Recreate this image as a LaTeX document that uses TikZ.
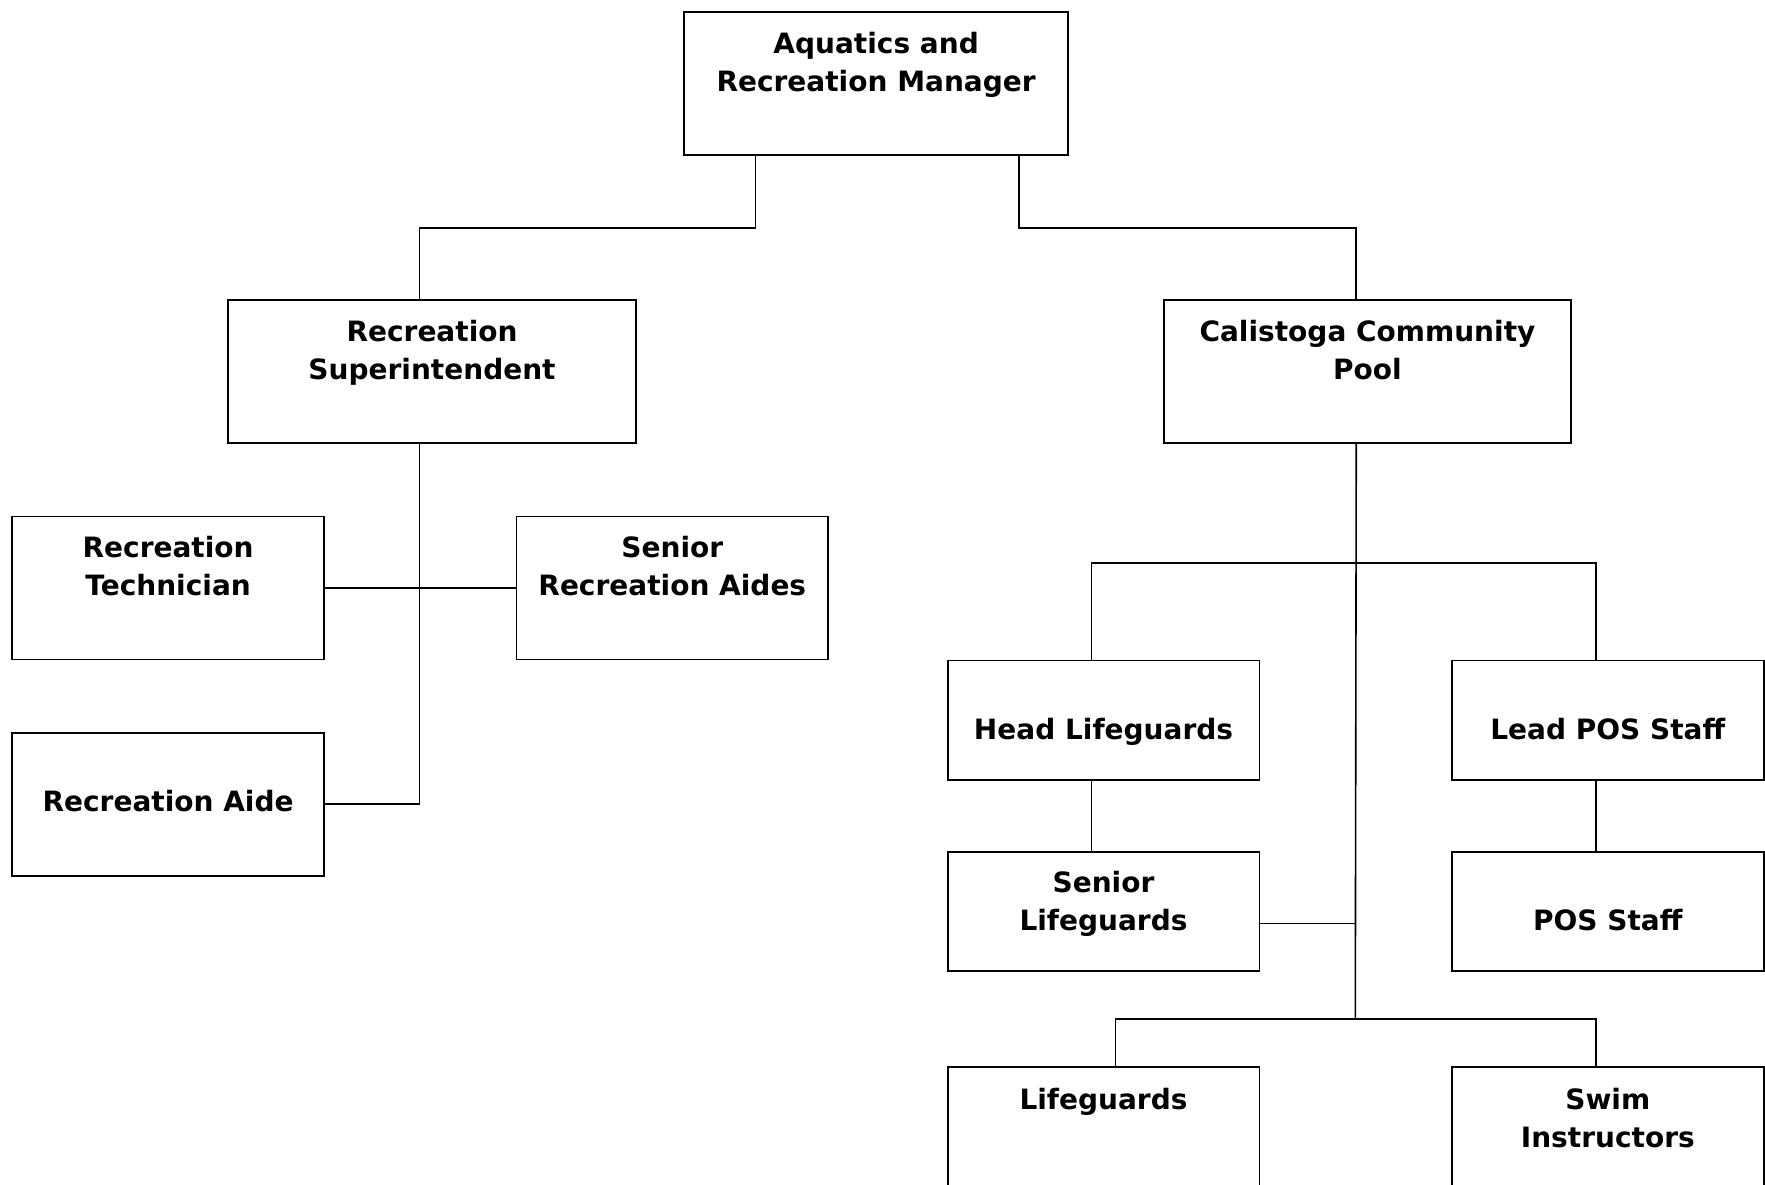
\documentclass[tikz,border=0pt]{standalone}
\usepackage{fontspec}
\setmainfont{DejaVu Sans}
% text block of a box: width, height, top strut, lines
\newcommand{\boxlines}[4]{\parbox[c][#2pt][t]{#1pt}{\centering\rule{0pt}{#3pt}#4}}
\tikzset{
  orgbox/.style={draw, line width=1.8pt, anchor=north west, inner sep=0pt,
    font=\fontsize{28}{38}\selectfont\bfseries},
  link/.style={line width=1.6pt}
}
\begin{document}
\begin{tikzpicture}[x=1pt, y=-1pt]
        \useasboundingbox (0,0) rectangle (1765,1185);
        \clip (0,0) rectangle (1765,1185);

        % Top level
        \node[orgbox] (mgr) at (683.3,11.3) {\boxlines{383.8}{142.9}{41}{Aquatics and\\Recreation Manager}};

        % Second level
        \node[orgbox] (supt) at (227.4,299.4) {\boxlines{407.5}{143}{41}{Recreation\\Superintendent}};
        \node[orgbox] (pool) at (1162.8,299.4) {\boxlines{407.5}{143}{41}{Calistoga Community\\Pool}};

        % Recreation side
        \node[orgbox] (tech) at (11.3,515.5) {\boxlines{311.8}{143}{41}{Recreation\\Technician}};
        \node[orgbox] (saides) at (515.5,515.5) {\boxlines{311.8}{143}{41}{Senior\\Recreation Aides}};
        \node[orgbox] (aide) at (11.3,731.7) {\boxlines{311.8}{143}{79}{Recreation Aide}};

        % Pool side
        \node[orgbox] (headlg) at (946.7,659.6) {\boxlines{311.8}{119.4}{79}{Head Lifeguards}};
        \node[orgbox] (leadpos) at (1451,659.6) {\boxlines{311.8}{119.4}{79}{Lead POS Staff}};
        \node[orgbox] (srlg) at (946.7,851) {\boxlines{311.8}{119.3}{41}{Senior\\Lifeguards}};
        \node[orgbox] (posstaff) at (1451,851) {\boxlines{311.8}{119.3}{79}{POS Staff}};
        \node[orgbox] (lg) at (946.7,1066) {\boxlines{311.8}{143}{43}{Lifeguards}};
        \node[orgbox] (swim) at (1451,1066) {\boxlines{311.8}{143}{43}{Swim\\Instructors}};

        \coordinate (topbar) at (1355.3,562.8);
        \coordinate (pooljoin) at (1355.3,1018.7);

        % Manager to second level
        \draw[link] ([xshift=72pt]mgr.south west) -- ++(0,72.1) -| ([xshift=-12.4pt]supt.north);
        \draw[link] ([xshift=335.4pt]mgr.south west) -- ++(0,72.1) -| ([xshift=-11.2pt]pool.north);

        % Superintendent branch
        \draw[link] ([xshift=-12.4pt]supt.south) |- (aide.east);
        \draw[link] (tech.east) -- (saides.west);

        % Pool branch
        \draw[link] ([xshift=-11.2pt]pool.south) -- (pooljoin);
        \draw[link] ([xshift=-12pt]headlg.north) |- (topbar) -| ([xshift=-12pt]leadpos.north);
        \draw[link] ([xshift=-12pt]headlg.south) -- ([xshift=-12pt]srlg.north);
        \draw[link] ([xshift=-12pt]leadpos.south) -- ([xshift=-12pt]posstaff.north);
        \draw[link] ([yshift=-12pt]srlg.east) -- ([yshift=-12pt]srlg.east -| pooljoin);
        \draw[link] ([xshift=12pt]lg.north) |- (pooljoin) -| ([xshift=-12pt]swim.north);

\end{tikzpicture}
\end{document}
